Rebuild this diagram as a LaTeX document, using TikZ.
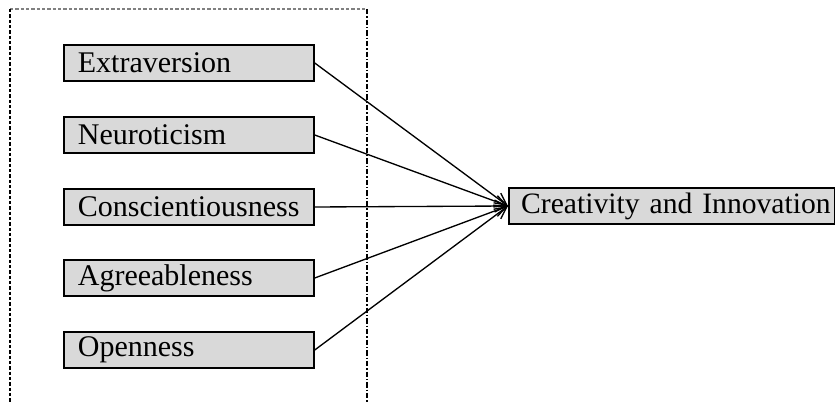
\documentclass[tikz,border=0pt]{standalone}
\usepackage{fontspec}
\setmainfont{Liberation Serif}
\usetikzlibrary{arrows.meta}
\definecolor{boxgray}{HTML}{D9D9D9}
\begin{document}
\begin{tikzpicture}[x=0.75pt,y=-0.75pt,
  trait/.style={draw=black, line width=1.3pt, fill=boxgray, font=\fontsize{22.5pt}{24pt}\selectfont,
    minimum height=27pt, text width=166.5pt, inner xsep=10.5pt, inner ysep=0pt, align=left, anchor=west},
  outbox/.style={trait, text width=232.5pt, inner xsep=5.875pt},
  link/.style={line width=1pt, -{Straight Barb[length=9pt,width=9pt,line width=1pt]}},
  frame/.style={line width=0.9pt, dash pattern=on 2.5pt off 1.5pt},
]
\useasboundingbox (0,0) rectangle (836,402);
% dashed frame
\draw[frame, gray] (10,9) -- (367,9);
\draw[frame] (10,9) -- (10,402);
\draw[frame, dash pattern=on 4pt off 1.5pt on 1pt off 1.5pt] (367,9) -- (367,402);
% nodes
\node[trait] (ext) at (63,63) {Extraversion};
\node[trait] (neu) at (63,135) {Neuroticism};
\node[trait] (con) at (63,207) {Conscientiousness};
\node[trait] (agr) at (63,278) {Agreeableness};
\node[trait] (ope) at (63,350) {Openness};
\node[outbox] (cre) at (508,206) {\mbox{\hspace*{3.4pt}\fontsize{22.2pt}{24pt}\selectfont Creativity and Innovation}};
% connectors
\foreach \n in {ext,neu,con,agr,ope}
  \draw[link] (\n.east) -- (cre.west);
\end{tikzpicture}
\end{document}
